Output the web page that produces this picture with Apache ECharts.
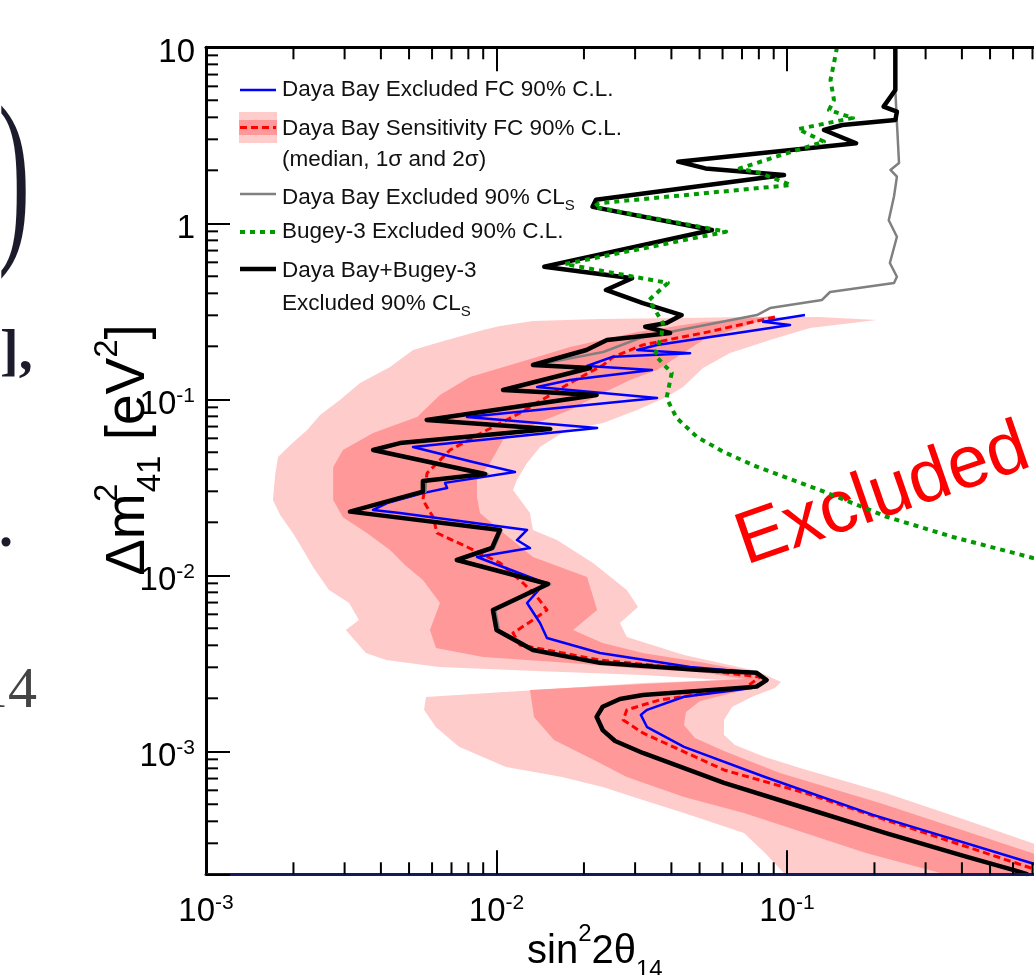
<!DOCTYPE html>
<html>
<head>
<meta charset="utf-8">
<title>Daya Bay + Bugey-3 sterile neutrino exclusion</title>
<script src="https://cdn.jsdelivr.net/npm/echarts@6/dist/echarts.min.js"></script>
<style>
  html, body { margin: 0; padding: 0; background: #fff; }
  #chart { width: 1034px; height: 975px; }
</style>
</head>
<body>
<div id="chart"></div>
<script>
// axis ranges (sin^2 2theta14, dm^2_41 in eV^2)
const xRange = [0.001, 1]
const yRange = [0.0002, 10]

// minor tick positions
const xMinorTicks = [0.002, 0.003, 0.004, 0.005, 0.006, 0.007, 0.008, 0.009,
  0.02, 0.03, 0.04, 0.05, 0.06, 0.07, 0.08, 0.09,
  0.2, 0.3, 0.4, 0.5, 0.6, 0.7, 0.8, 0.9]
const yMinorTicks = [0.0003, 0.0004, 0.0005, 0.0006, 0.0007, 0.0008, 0.0009,
  0.002, 0.003, 0.004, 0.005, 0.006, 0.007, 0.008, 0.009,
  0.02, 0.03, 0.04, 0.05, 0.06, 0.07, 0.08, 0.09,
  0.2, 0.3, 0.4, 0.5, 0.6, 0.7, 0.8, 0.9,
  2, 3, 4, 5, 6, 7, 8, 9]

// sensitivity bands, outlines as [sin2, dm2]
const sens2Sigma = [
  [0.204, 0.2822], [0.1299, 0.2934], [0.0746, 0.2934], [0.0428, 0.2896], [0.0227, 0.2858], [0.01335, 0.2785], [0.01028, 0.2609],
  [0.00899, 0.2475], [0.00639, 0.2117], [0.00516, 0.1906], [0.0043, 0.1526], [0.00339, 0.1238], [0.00289, 0.0991], [0.00247, 0.0814],
  [0.00223, 0.0669], [0.00195, 0.055], [0.00177, 0.047], [0.00173, 0.0371], [0.0017, 0.0268], [0.0018, 0.022], [0.00199, 0.01739],
  [0.00216, 0.01392], [0.002335, 0.01115], [0.00265, 0.00825], [0.00311, 0.00696], [0.00336, 0.00557], [0.00303, 0.00489],
  [0.00355, 0.00362], [0.00417, 0.0033],
  [0.00634, 0.00301], [0.01368, 0.00286], [0.0319, 0.00271], [0.0607, 0.00254],
  [0.0319, 0.00244], [0.01368, 0.00223], [0.00572, 0.002035],
  [0.00563, 0.00172], [0.00619, 0.00137], [0.00743, 0.00106], [0.01078, 0.000814], [0.0168, 0.000714], [0.0232, 0.000627],
  [0.0319, 0.000529], [0.0442, 0.000446], [0.0711, 0.000343], [0.084, 0.000264], [0.0984, 0.0002],
  [1, 0.0002], [1, 0.000254], [0.697, 0.000301], [0.394, 0.000418], [0.219, 0.00058], [0.1109, 0.000804], [0.084, 0.000928],
  [0.0662, 0.001086], [0.0607, 0.001238], [0.0607, 0.001506], [0.0647, 0.001785], [0.0758, 0.00204], [0.0909, 0.00229], [0.0954, 0.002475],
  [0.0788, 0.00286], [0.0442, 0.00352], [0.0281, 0.00446], [0.0266, 0.00536], [0.0307, 0.00661], [0.0281, 0.00825], [0.0215, 0.01175],
  [0.01615, 0.01586], [0.01335, 0.0181], [0.01304, 0.0226], [0.0114, 0.0305], [0.01176, 0.0348], [0.01274, 0.0435], [0.01412, 0.0536],
  [0.01748, 0.0669], [0.0233, 0.0733], [0.0305, 0.0869], [0.0385, 0.1031], [0.0439, 0.1175], [0.0514, 0.1506], [0.0637, 0.1833],
  [0.0874, 0.217], [0.12, 0.254]
]
const sens1Sigma = [
  [0.0909, 0.2973], [0.0514, 0.2749], [0.0305, 0.2412], [0.0179, 0.1983], [0.0138, 0.1739], [0.0081, 0.1339], [0.00639, 0.1058],
  [0.00533, 0.0793], [0.00447, 0.0714], [0.00376, 0.0643], [0.00296, 0.0515], [0.00274, 0.0412], [0.00274, 0.0268], [0.00296, 0.0214],
  [0.00358, 0.01739], [0.0043, 0.01392], [0.00484, 0.01144], [0.00558, 0.0094], [0.00639, 0.00696], [0.0059, 0.00489], [0.00619, 0.00386],
  [0.00899, 0.00343], [0.01748, 0.00318], [0.0319, 0.002934], [0.0502, 0.002822], [0.0717, 0.002575],
  [0.0319, 0.002412], [0.01304, 0.00223],
  [0.01346, 0.001566], [0.01577, 0.001159], [0.02165, 0.000892], [0.0281, 0.000714], [0.0442, 0.00055], [0.0711, 0.000446],
  [0.1153, 0.000343], [0.187, 0.000264], [0.35, 0.0002],
  [1, 0.0002], [1, 0.000223], [0.697, 0.000264], [0.2089, 0.000509], [0.0946, 0.000753], [0.0607, 0.001004], [0.0482, 0.00119],
  [0.0442, 0.001411], [0.0449, 0.001673], [0.0502, 0.001931], [0.0758, 0.00229], [0.086, 0.00254], [0.0788, 0.00279], [0.0518, 0.00318],
  [0.0319, 0.00362], [0.0232, 0.00412], [0.01834, 0.00489], [0.0222, 0.00635], [0.0205, 0.00978], [0.01335, 0.01271], [0.01028, 0.0181],
  [0.00877, 0.0226], [0.00857, 0.0279], [0.00857, 0.0348], [0.0095, 0.0435], [0.01053, 0.0587], [0.0138, 0.0733], [0.0179, 0.0869],
  [0.0233, 0.1086], [0.0288, 0.1288], [0.0357, 0.1467], [0.0418, 0.1739], [0.0514, 0.217]
]

// contours as [sin2, dm2]
const sensMedian = [
  [0.0909, 0.2934], [0.0514, 0.238], [0.0418, 0.223], [0.0319, 0.2035], [0.0252, 0.1739], [0.0233, 0.1566], [0.0179, 0.1238],
  [0.01492, 0.1031], [0.01205, 0.0836], [0.00928, 0.0669], [0.00692, 0.0515], [0.00577, 0.0381], [0.00558, 0.0268], [0.00605, 0.0214],
  [0.00624, 0.01739], [0.00792, 0.01448], [0.01028, 0.01175], [0.01234, 0.00904], [0.0138, 0.00753], [0.01492, 0.00635],
  [0.01335, 0.00557], [0.0114, 0.0047], [0.01205, 0.00402], [0.0227, 0.0033], [0.0502, 0.0029], [0.0807, 0.002644], [0.0717, 0.00229],
  [0.0365, 0.00196], [0.0281, 0.00172], [0.0273, 0.001506], [0.0319, 0.001271], [0.0607, 0.000783], [0.1153, 0.00058],
  [0.219, 0.000407], [0.675, 0.00022], [0.804, 0.0002]
]
const dybExcludedFC = [
  [0.1153, 0.301], [0.0827, 0.276], [0.1024, 0.2644], [0.0673, 0.238], [0.0464, 0.217], [0.0357, 0.2035], [0.0305, 0.1906],
  [0.0464, 0.1826], [0.0252, 0.1746], [0.0205, 0.1546], [0.0343, 0.1467], [0.0179, 0.1288], [0.0138, 0.1175], [0.0357, 0.1017],
  [0.00792, 0.0793], [0.0222, 0.0687], [0.00516, 0.0536], [0.0083, 0.044], [0.01158, 0.0386], [0.00665, 0.0335], [0.00676, 0.0313],
  [0.00558, 0.0293], [0.0042, 0.0257], [0.00376, 0.0235], [0.00465, 0.0226], [0.01274, 0.0181], [0.01176, 0.01586], [0.01304, 0.01429],
  [0.00857, 0.01271], [0.01469, 0.00904], [0.01274, 0.00696], [0.01412, 0.00536], [0.01492, 0.0044], [0.0227, 0.00362],
  [0.0464, 0.00301], [0.0788, 0.00279], [0.0854, 0.00254], [0.0758, 0.00229], [0.0442, 0.00204], [0.033, 0.00172], [0.0314, 0.00161],
  [0.033, 0.00137], [0.0442, 0.00106], [0.084, 0.000714], [0.1977, 0.000435], [0.675, 0.000235], [0.87, 0.000206]
]
const dybExcludedCLs = [
  [0.236, 10], [0.236, 5.72], [0.239, 3.72], [0.243, 2.2], [0.227, 2.01], [0.239, 1.84], [0.2335, 1.42], [0.224, 1.04], [0.239, 0.839],
  [0.226, 0.595], [0.239, 0.497], [0.2335, 0.458], [0.1406, 0.407], [0.132, 0.3667], [0.0874, 0.33], [0.0788, 0.301], [0.0428, 0.2475],
  [0.0312, 0.223], [0.0233, 0.1856], [0.0136, 0.1566], [0.0212, 0.1506], [0.0107, 0.1129], [0.0223, 0.1058], [0.00585, 0.0763],
  [0.0155, 0.0678], [0.00475, 0.0564], [0.00383, 0.0515], [0.0093, 0.0376], [0.0057, 0.0343], [0.0057, 0.0299], [0.0032, 0.023],
  [0.0104, 0.0181], [0.0098, 0.01429], [0.0075, 0.01222], [0.0153, 0.00892], [0.0099, 0.00635], [0.0102, 0.00489], [0.0136, 0.00376],
  [0.0229, 0.00318], [0.0502, 0.0029], [0.0786, 0.00279], [0.0851, 0.00254], [0.0786, 0.00233], [0.0319, 0.00209], [0.0266, 0.001983],
  [0.0234, 0.00179], [0.0223, 0.00157], [0.0234, 0.00132], [0.0256, 0.001144], [0.0321, 0.000978], [0.0607, 0.000661],
  [0.1153, 0.000476], [0.219, 0.000343], [0.4165, 0.000251], [0.6, 0.000212], [0.675, 0.0002]
]
const bugeyExcluded = [
  [0.1486, 10], [0.1451, 8.14], [0.1412, 6.52], [0.1451, 5.02], [0.1395, 4.4], [0.1687, 3.97], [0.1091, 3.43], [0.134, 2.91],
  [0.0954, 2.44], [0.0687, 2.05], [0.0807, 1.93], [0.1032, 1.65], [0.0225, 1.3], [0.02165, 1.24], [0.0617, 0.896], [0.0172, 0.587],
  [0.0389, 0.458], [0.0335, 0.3667], [0.0374, 0.271], [0.037, 0.232], [0.0351, 0.1785], [0.0401, 0.1411], [0.0385, 0.1017],
  [0.0417, 0.0783], [0.0489, 0.0613], [0.0602, 0.0504], [0.0787, 0.0414], [0.1299, 0.0305], [0.2204, 0.0215], [0.3727, 0.0165],
  [0.703, 0.01254], [0.99, 0.01079]
]
const combinedExcluded = [
  [0.236, 10], [0.236, 5.72], [0.215, 4.6], [0.239, 4.31], [0.236, 3.86], [0.155, 3.62], [0.134, 3.39], [0.173, 2.85], [0.0422, 2.24],
  [0.0524, 2.05], [0.0977, 1.88], [0.022, 1.36], [0.0214, 1.24], [0.0552, 0.916], [0.0146, 0.567], [0.0293, 0.487], [0.0238, 0.418],
  [0.0319, 0.352], [0.0434, 0.301], [0.0385, 0.271], [0.0325, 0.2585], [0.0396, 0.238], [0.024, 0.217], [0.0204, 0.1906],
  [0.01335, 0.1566], [0.021, 0.1506], [0.01053, 0.1129], [0.0221, 0.1058], [0.00575, 0.0763], [0.01528, 0.0678], [0.00465, 0.0564],
  [0.00376, 0.0515], [0.00913, 0.0376], [0.00558, 0.0343], [0.00558, 0.0299], [0.00313, 0.023], [0.01028, 0.0181], [0.00965, 0.01429],
  [0.0073, 0.01222], [0.01504, 0.00892], [0.00972, 0.00635], [0.01, 0.00489], [0.01335, 0.00376], [0.0227, 0.00318], [0.0502, 0.0029],
  [0.0786, 0.00279], [0.0851, 0.00254], [0.0786, 0.00233], [0.0319, 0.00209], [0.0266, 0.001983], [0.0232, 0.00179], [0.0221, 0.00157],
  [0.0232, 0.00132], [0.0256, 0.001144], [0.0319, 0.000978], [0.0607, 0.000661], [0.1153, 0.000476], [0.219, 0.000343],
  [0.4165, 0.000251], [0.6, 0.000212], [0.675, 0.0002]
]

const SANS = "'Liberation Sans', Arial, Helvetica, sans-serif"
const SERIF = "'Liberation Serif', 'Times New Roman', serif"

const powLabel = (v, plainSmall) => {
  const e = Math.round(Math.log10(v))
  if (Math.abs(Math.log10(v) - e) > 1e-6) return ''
  if (plainSmall && e === 0) return '{b|1}'
  if (plainSmall && e === 1) return '{b|10}'
  return '{b|10}{s|' + e + '}'
}

const labelRich = {
  b: { fontFamily: SANS, fontSize: 33, color: '#000', lineHeight: 40 },
  s: { fontFamily: SANS, fontSize: 21, color: '#000', lineHeight: 18, verticalAlign: 'top' }
}

const tickSeries = (name, points, dx, dy) => ({
  type: 'custom',
  name,
  silent: true,
  clip: false,
  z: 6,
  xAxisIndex: 0,
  yAxisIndex: 0,
  data: points,
  renderItem: (params, api) => {
    const p = api.coord([api.value(0), api.value(1)])
    return {
      type: 'line',
      shape: { x1: p[0], y1: p[1], x2: p[0] + dx, y2: p[1] + dy },
      style: { stroke: '#000', lineWidth: 2 }
    }
  }
})

const bandSeries = (name, points, color) => ({
  type: 'custom',
  name,
  silent: true,
  clip: true,
  z: 1,
  data: points,
  renderItem: (params, api) => {
    if (params.dataIndex !== 0) return null
    return {
      type: 'polygon',
      shape: { points: points.map(p => api.coord(p)) },
      style: { fill: color }
    }
  }
})

const lineSeries = (name, data, color, width, dash, z) => ({
  type: 'line',
  name,
  data,
  showSymbol: false,
  symbol: 'none',
  silent: true,
  clip: true,
  z,
  lineStyle: { color, width, type: dash || 'solid', cap: 'butt', join: 'round' }
})

const chart = echarts.init(document.getElementById('chart'))

chart.setOption({
  animation: false,
  backgroundColor: '#fff',
  grid: { left: 206, top: 47.3, width: 871.5, height: 827, containLabel: false, outerBoundsMode: 'none' },
  xAxis: [
    {
      type: 'log', logBase: 10, min: xRange[0], max: xRange[1], position: 'bottom', z: 5,
      axisLine: { show: true, onZero: false, lineStyle: { color: '#141a5c', width: 3 } },
      axisTick: { show: true, inside: true, length: 24, lineStyle: { color: '#000', width: 2 } },
      axisLabel: { margin: 18, formatter: v => powLabel(v, false), rich: labelRich },
      splitLine: { show: false }
    },
    {
      type: 'log', logBase: 10, min: xRange[0], max: xRange[1], position: 'top', z: 5,
      axisLine: { show: true, onZero: false, lineStyle: { color: '#000', width: 3 } },
      axisTick: { show: true, inside: true, length: 24, lineStyle: { color: '#000', width: 2 } },
      axisLabel: { show: false },
      splitLine: { show: false }
    }
  ],
  yAxis: {
    type: 'log', logBase: 10, min: yRange[0], max: yRange[1], position: 'left', z: 5,
    axisLine: { show: true, onZero: false, lineStyle: { color: '#000', width: 3 } },
    axisTick: { show: true, inside: true, length: 24, lineStyle: { color: '#000', width: 2 } },
    axisLabel: { margin: 11, padding: [12, 0, 0, 0], formatter: v => powLabel(v, true), rich: labelRich },
    splitLine: { show: false }
  },
  series: [
    bandSeries('2 sigma', sens2Sigma, '#ffcccc'),
    bandSeries('1 sigma', sens1Sigma, '#ff9999'),
    lineSeries('Daya Bay Sensitivity FC 90% C.L.', sensMedian, '#ff0000', 3, [7, 4], 2),
    lineSeries('Daya Bay Excluded FC 90% C.L.', dybExcludedFC, '#0000ff', 2.5, null, 3),
    lineSeries('Daya Bay Excluded 90% CLs', dybExcludedCLs, '#808080', 2.5, null, 3),
    lineSeries('Daya Bay+Bugey-3 Excluded 90% CLs', combinedExcluded, '#000000', 4.5, null, 4),
    lineSeries('Bugey-3 Excluded 90% C.L.', bugeyExcluded, '#009a00', 4, [5, 5], 4),
    tickSeries('bottom minor', xMinorTicks.map(v => [v, yRange[0]]), 0, -12),
    tickSeries('top minor', xMinorTicks.map(v => [v, yRange[1]]), 0, 12),
    tickSeries('left minor', yMinorTicks.map(v => [xRange[0], v]), 12, 0)
  ],
  graphic: [
    // legend
    { type: 'line', shape: { x1: 240, y1: 90, x2: 276, y2: 90 }, style: { stroke: '#0000ff', lineWidth: 2.5 } },
    { type: 'text', x: 282, y: 90, style: { text: 'Daya Bay Excluded FC 90% C.L.', font: '22.5px ' + SANS, fill: '#111', verticalAlign: 'middle' } },
    { type: 'rect', shape: { x: 239, y: 112, width: 38, height: 31 }, style: { fill: '#ffcccc' } },
    { type: 'rect', shape: { x: 239, y: 120, width: 38, height: 15 }, style: { fill: '#ff9999' } },
    { type: 'line', shape: { x1: 240, y1: 127.5, x2: 276, y2: 127.5 }, style: { stroke: '#ff0000', lineWidth: 3, lineDash: [7, 4] } },
    { type: 'text', x: 282, y: 129, style: { text: 'Daya Bay Sensitivity FC 90% C.L.', font: '22.5px ' + SANS, fill: '#111', verticalAlign: 'middle' } },
    { type: 'text', x: 282, y: 160, style: { text: '(median, 1σ and 2σ)', font: '22.5px ' + SANS, fill: '#111', verticalAlign: 'middle' } },
    { type: 'line', shape: { x1: 240, y1: 194, x2: 276, y2: 194 }, style: { stroke: '#808080', lineWidth: 2.5 } },
    {
      type: 'text', x: 282, y: 198,
      style: {
        text: '{a|Daya Bay Excluded 90% CL}{s|S}', verticalAlign: 'middle',
        rich: {
          a: { font: '22.5px ' + SANS, fill: '#111', lineHeight: 30 },
          s: { font: '15px ' + SANS, fill: '#111', lineHeight: 16, verticalAlign: 'bottom' }
        }
      }
    },
    { type: 'line', shape: { x1: 240, y1: 232, x2: 276, y2: 232 }, style: { stroke: '#009a00', lineWidth: 4, lineDash: [5, 5] } },
    { type: 'text', x: 282, y: 232, style: { text: 'Bugey-3 Excluded 90% C.L.', font: '22.5px ' + SANS, fill: '#111', verticalAlign: 'middle' } },
    { type: 'line', shape: { x1: 240, y1: 269, x2: 276, y2: 269 }, style: { stroke: '#000', lineWidth: 4.5 } },
    { type: 'text', x: 282, y: 271, style: { text: 'Daya Bay+Bugey-3', font: '22.5px ' + SANS, fill: '#111', verticalAlign: 'middle' } },
    {
      type: 'text', x: 282, y: 304,
      style: {
        text: '{a|Excluded 90% CL}{s|S}', verticalAlign: 'middle',
        rich: {
          a: { font: '22.5px ' + SANS, fill: '#111', lineHeight: 30 },
          s: { font: '15px ' + SANS, fill: '#111', lineHeight: 16, verticalAlign: 'bottom' }
        }
      }
    },
    // region annotation
    {
      type: 'text', x: 883, y: 496, rotation: 0.333,
      style: { text: 'Excluded', font: '74px ' + SANS, fill: '#ff0000', align: 'center', verticalAlign: 'middle' }
    },
    // axis titles
    {
      type: 'text', x: 527, y: 952,
      style: {
        text: '{a|sin}{p|2}{a|2θ}{q|14}', verticalAlign: 'middle',
        rich: {
          a: { font: '40px ' + SANS, fill: '#000', lineHeight: 60 },
          p: { font: '24px ' + SANS, fill: '#000', lineHeight: 30, verticalAlign: 'top' },
          q: { font: '24px ' + SANS, fill: '#000', lineHeight: 24, verticalAlign: 'bottom' }
        }
      }
    },
    {
      type: 'text', x: 129, y: 450, rotation: Math.PI / 2,
      style: {
        text: '{a|Δm}{p0|2}{q|41}{a| [eV}{p|2}{a|]}', align: 'center', verticalAlign: 'middle',
        rich: {
          a: { font: '55px ' + SANS, fill: '#000', lineHeight: 76 },
          p0: { font: '33px ' + SANS, fill: '#000', lineHeight: 40, verticalAlign: 'top', width: 1 },
          p: { font: '33px ' + SANS, fill: '#000', lineHeight: 40, verticalAlign: 'top' },
          q: { font: '33px ' + SANS, fill: '#000', lineHeight: 40, verticalAlign: 'bottom' }
        }
      }
    },
    // fragments of the surrounding slide text
    { type: 'text', x: 30, y: 188, scaleX: 0.5, style: { text: ')', font: '190px ' + SERIF, fill: '#1b1b2b', align: 'right', verticalAlign: 'middle' } },
    { type: 'text', x: 0, y: 355, style: { text: '],', font: 'bold 56px ' + SERIF, fill: '#1b1b2b', verticalAlign: 'middle' } },
    { type: 'text', x: -1, y: 532, style: { text: '.', font: 'bold 56px ' + SERIF, fill: '#1b1b2b', verticalAlign: 'middle' } },
    { type: 'text', x: -21, y: 692, style: { text: '14', font: '58px ' + SERIF, fill: '#444', verticalAlign: 'middle' } }
  ]
})
</script>
</body>
</html>
